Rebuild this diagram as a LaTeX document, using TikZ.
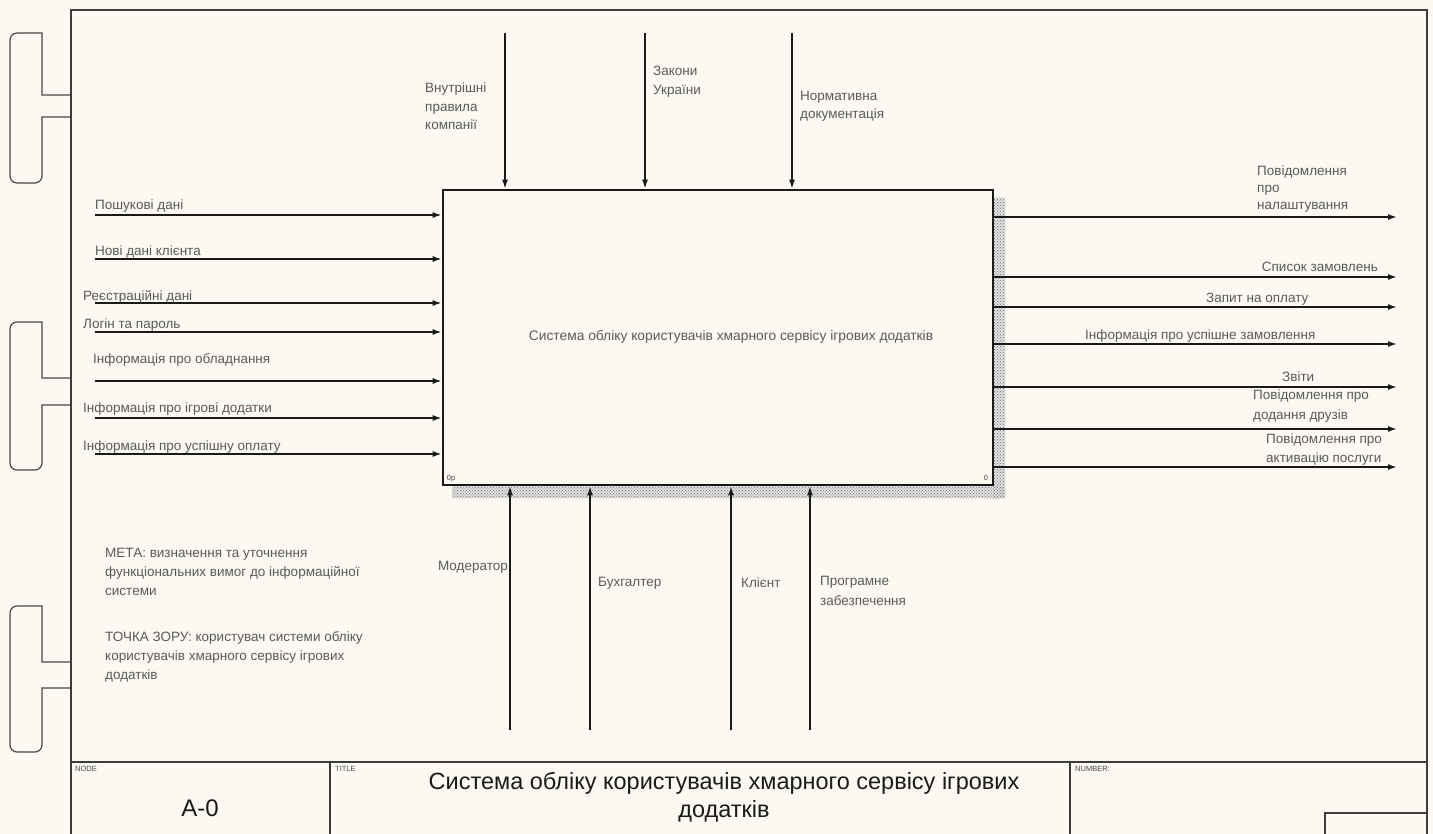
\documentclass[tikz,border=0pt]{standalone}
\usepackage{fontspec}
\setmainfont{Liberation Sans}
\usetikzlibrary{arrows.meta,patterns}
\definecolor{paper}{HTML}{FBF9F1}
\definecolor{ink}{HTML}{1A1A1A}
\begin{document}
\begin{tikzpicture}[x=1pt,y=-1pt,
  lbl/.style={font=\fontsize{13.5}{18.5}\selectfont, inner sep=0pt, align=left, text=ink!72},
  small/.style={font=\fontsize{7.5}{8}\selectfont, inner sep=0pt, text=ink!80},
  flow/.style={line width=1.6pt, draw=ink, -{Latex[length=9pt,width=6pt]}},
  frameline/.style={line width=1.4pt, draw=ink!85},
  punch/.style={line width=1.2pt, draw=ink!80}]

% page and background
\useasboundingbox (0,0) rectangle (1433,834);
\fill[paper] (0,0) rectangle (1433,834);

% binding marks outside the frame
\draw[punch] (71,95) -- (42,95) -- (42,33) [rounded corners=7] -- (10,33) -- (10,183) -- (42,183) [sharp corners] -- (42,117) -- (71,117);
\draw[punch] (71,378) -- (42,378) -- (42,322) [rounded corners=7] -- (10,322) -- (10,470) -- (42,470) [sharp corners] -- (42,405) -- (71,405);
\draw[punch] (71,662) -- (42,662) -- (42,606) [rounded corners=7] -- (10,606) -- (10,752) -- (42,752) [sharp corners] -- (42,688) -- (71,688);

% drawing frame and title block
\draw[frameline] (71,840) -- (71,10) -- (1427,10) -- (1427,840);
\draw[frameline] (71,762) -- (1427,762);
\draw[frameline] (330,762) -- (330,840);
\draw[frameline] (1070,762) -- (1070,840);
\draw[frameline] (1325,840) -- (1325,813) -- (1427,813);

\node[small, anchor=north west] (nodelbl) at (75,766) {NODE};
\node[small, anchor=north west] (titlelbl) at (335,766) {TITLE};
\node[small, anchor=north west] (numlbl) at (1075,766) {NUMBER:};
\node[font=\fontsize{24}{26}\selectfont, inner sep=0pt, text=ink] (nodeno) at (200,808) {A-0};
\node[font=\fontsize{23.5}{28}\selectfont, inner sep=0pt, align=center, text=ink] (title) at (724,797)
  {Система обліку користувачів хмарного сервісу ігрових\\додатків};

% shadow of the activity box
\fill[gray!25] (993,198) rectangle (1005,498);
\fill[gray!25] (452,486) rectangle (1005,498);
\fill[pattern=crosshatch dots, pattern color=gray!90!black] (993,198) rectangle (1005,498);
\fill[pattern=crosshatch dots, pattern color=gray!90!black] (452,486) rectangle (1005,498);

% activity box
\node[draw=ink, line width=2.6pt, fill=paper, minimum width=550pt, minimum height=295pt, inner sep=0pt] (box) at (718,337.5) {};
\node[font=\fontsize{13.8}{16}\selectfont, inner sep=0pt, text=ink!72] (boxtext) at (731,337)
  {Система обліку користувачів хмарного сервісу ігрових додатків};
\node[small, anchor=south west] (boxno) at ([shift={(5,-4)}]box.south west) {0p};
\node[small, anchor=south east] (boxcost) at ([shift={(-6,-6)}]box.south east) {0};

% inputs
\foreach \n/\y in {1/215,2/259,3/303,4/332,5/381,6/418,7/454}{
  \coordinate (in\n) at (95,\y);
  \draw[flow] (in\n) -- (in\n -| box.west);
}
\node[lbl, anchor=west] (li1) at (95,206) {Пошукові дані};
\node[lbl, anchor=west] (li2) at (95,252) {Нові дані клієнта};
\node[lbl, anchor=west] (li3) at (83,297) {Реєстраційні дані};
\node[lbl, anchor=west] (li4) at (83,325) {Логін та пароль};
\node[lbl, anchor=west] (li5) at (93,360) {Інформація про обладнання};
\node[lbl, anchor=west] (li6) at (83,409) {Інформація про ігрові додатки};
\node[lbl, anchor=west] (li7) at (83,447) {Інформація про успішну оплату};

% controls
\foreach \n/\x in {1/505,2/645,3/792}{
  \coordinate (ct\n) at (\x,33);
  \draw[flow] (ct\n) -- (ct\n |- box.north);
}
\node[lbl, anchor=north west] (lc1) at (425,83) {Внутрішні\\правила\\компанії};
\node[lbl, anchor=north west] (lc2) at (653,66) {Закони\\України};
\node[lbl, anchor=north west] (lc3) at (800,91) {Нормативна\\документація};

% outputs
\foreach \n/\y in {1/217,2/277,3/307,4/344,5/387,6/429,7/467}{
  \coordinate (out\n) at (1397,\y);
  \draw[flow] (out\n -| box.east) -- (out\n);
}
\node[lbl, anchor=north west, font=\fontsize{13.5}{17}\selectfont] (lo1) at (1257,166) {Повідомлення\\про\\налаштування};
\node[lbl, anchor=east] (lo2) at (1378,267) {Список замовлень};
\node[lbl, anchor=west] (lo3) at (1206,299) {Запит на оплату};
\node[lbl, anchor=west] (lo4) at (1085,336) {Інформація про успішне замовлення};
\node[lbl, anchor=west] (lo5) at (1282,377) {Звіти};
\node[lbl, anchor=north west, font=\fontsize{13.5}{20}\selectfont] (lo6) at (1253,390) {Повідомлення про\\додання друзів};
\node[lbl, anchor=north west, font=\fontsize{13.5}{19}\selectfont] (lo7) at (1266,434) {Повідомлення про\\активацію послуги};

% mechanisms
\foreach \n/\x in {1/510,2/590,3/731,4/810}{
  \coordinate (mc\n) at (\x,730);
  \draw[flow] (mc\n) -- (mc\n |- box.south);
}
\node[lbl, anchor=east] (lm1) at (508,567) {Модератор};
\node[lbl, anchor=west] (lm2) at (598,583) {Бухгалтер};
\node[lbl, anchor=west] (lm3) at (741,583) {Клієнт};
\node[lbl, anchor=north west, font=\fontsize{13.5}{20}\selectfont] (lm4) at (820,576) {Програмне\\забезпечення};

% purpose and viewpoint
\node[lbl, anchor=north west, font=\fontsize{13.5}{19}\selectfont] (purpose) at (105,548)
  {МЕТА: визначення та уточнення\\функціональних вимог до інформаційної\\системи};
\node[lbl, anchor=north west, font=\fontsize{13.5}{19}\selectfont] (viewpoint) at (105,631)
  {ТОЧКА ЗОРУ: користувач системи обліку\\користувачів хмарного сервісу ігрових\\додатків};

\end{tikzpicture}
\end{document}
